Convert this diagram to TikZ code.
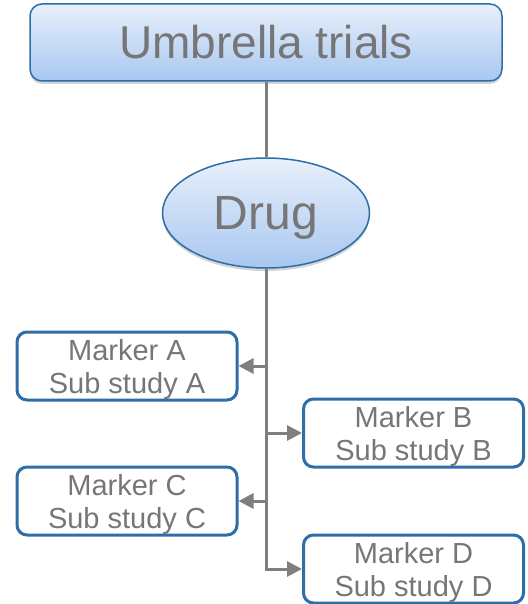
\documentclass[tikz,border=0pt]{standalone}
\usepackage{fontspec}
\setmainfont{Liberation Sans}
\usetikzlibrary{shapes.geometric,shadows,arrows.meta}
\definecolor{txtgray}{HTML}{767676}
\definecolor{linegray}{HTML}{7F7F7F}
\definecolor{edgeblue}{HTML}{2E6EA6}
\definecolor{fillTop}{HTML}{E8F0FB}
\definecolor{fillBot}{HTML}{A8C7F0}
\tikzset{
  headbox/.style={draw=edgeblue, line width=1.5pt, rounded corners=12pt,
    top color=fillTop, bottom color=fillBot,
    drop shadow={shadow xshift=0pt, shadow yshift=-3pt, opacity=0.35},
    minimum width=472pt, minimum height=77pt, text=txtgray,
    font=\fontsize{46}{52}\selectfont},
  drugnode/.style={ellipse, draw=edgeblue, line width=1.5pt,
    top color=fillTop, bottom color=fillBot,
    drop shadow={shadow xshift=0pt, shadow yshift=-3pt, opacity=0.35},
    minimum width=207pt, minimum height=110pt, inner sep=0pt, text=txtgray,
    text depth=0pt, font=\fontsize{48}{52}\selectfont},
  subbox/.style={draw=edgeblue, line width=3pt, rounded corners=10pt, fill=white,
    minimum width=220pt, minimum height=68pt, inner sep=0pt, text=txtgray,
    text depth=0pt, align=center, font=\fontsize{29}{33}\selectfont},
  link/.style={draw=linegray, line width=3pt},
  branch/.style={link, -{Triangle[length=15pt,width=15pt]}},
}
\begin{document}
\begin{tikzpicture}[x=1pt,y=-1pt]
\useasboundingbox (0,0) rectangle (527,604);
\node[headbox] (top) at (266,42.5) {Umbrella trials};
\node[drugnode] (drug) at (266,213) {Drug};
\node[subbox] (a) at (127,366) {Marker A\\Sub study A};
\node[subbox] (b) at (413.5,433) {Marker B\\Sub study B};
\node[subbox] (c) at (127,501) {Marker C\\Sub study C};
\node[subbox] (d) at (413.5,569) {Marker D\\Sub study D};
\path[link] (top.south) -- (drug.north);
\path[branch] (drug.south) |- (d.west);
\path[branch] (drug.south |- a.east) -- (a.east);
\path[branch] (drug.south |- b.west) -- (b.west);
\path[branch] (drug.south |- c.east) -- (c.east);
\end{tikzpicture}
\end{document}
